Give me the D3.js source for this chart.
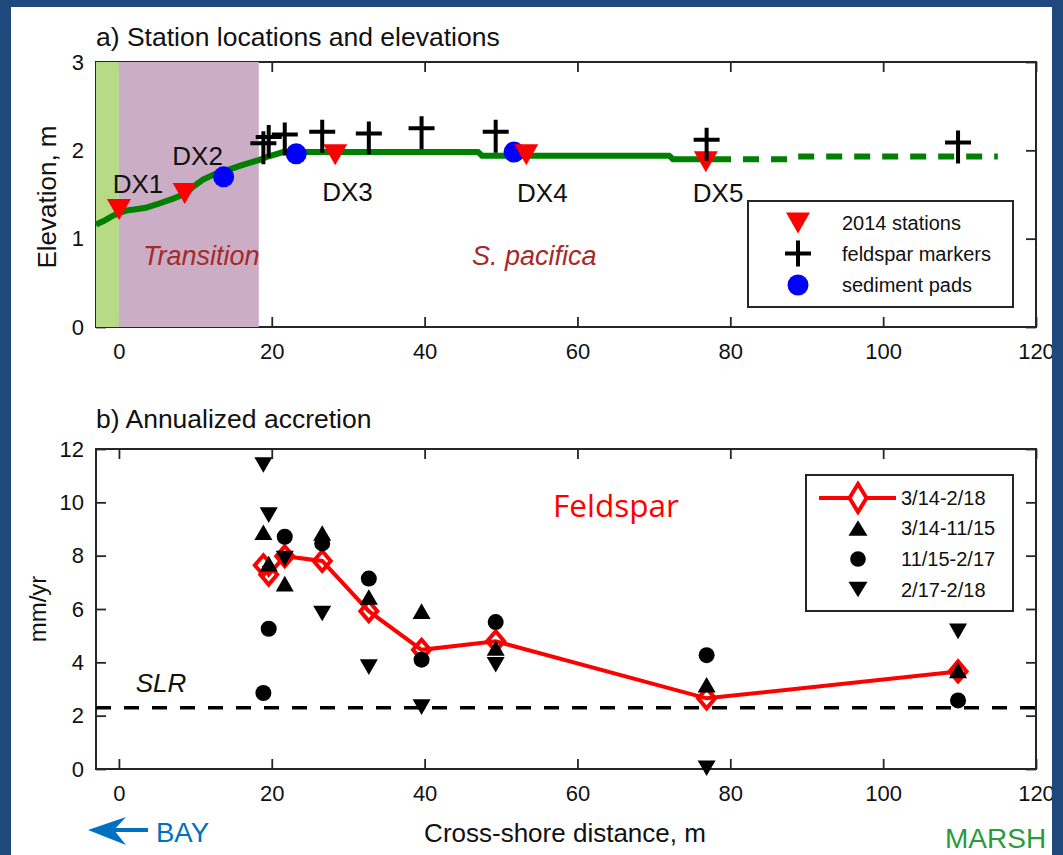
<!DOCTYPE html>
<html>
<head>
<meta charset="utf-8">
<script src="https://cdn.jsdelivr.net/npm/d3@7"></script>
<style>
  body { margin: 0; background: #1f497d; }
  svg text { font-family: "Liberation Sans", Arial, sans-serif; fill: #111; }
</style>
</head>
<body>
<svg id="chart" width="1063" height="855"></svg>
<script>
// ---- panel a: stations and elevations ----
const stationNames = ['DX1', 'DX2', 'DX3', 'DX4', 'DX5'];
const stationX = [0, 8.6, 28.3, 53.3, 76.8];
const stationElev = [1.33, 1.51, 1.95, 1.95, 1.87];
const stationLabelX = [2.5, 10.3, 29.9, 55.4, 78.4];
const stationLabelElev = [1.52, 1.83, 1.43, 1.41, 1.41];

const padX = [13.7, 23.2, 51.7];
const padElev = [1.7, 1.96, 1.98];

const feldsparX = [18.9, 19.6, 21.7, 26.6, 32.7, 39.6, 49.3, 76.9, 109.8];
const feldsparElev = [2.08, 2.15, 2.18, 2.21, 2.19, 2.25, 2.21, 2.12, 2.09];

const profileX = [-3, -2, -1, 0, 1, 2, 3.5, 5, 7, 8.7, 9.6, 11, 12.5, 14, 16, 18.3, 19.5, 21.5, 47, 47.5, 72, 72.5, 78];
const profileElev = [1.16, 1.2, 1.25, 1.29, 1.32, 1.33, 1.35, 1.39, 1.45, 1.51, 1.58, 1.67, 1.73, 1.77, 1.83, 1.89, 1.93, 1.98, 1.98, 1.94, 1.94, 1.90, 1.90];
const profileExtX = [78, 88, 88.5, 115];
const profileExtElev = [1.90, 1.90, 1.93, 1.93];

const zoneStart = [-3, 0];
const zoneEnd = [0, 18.3];
const zoneColors = ['#b6da86', '#cbadc6'];

// ---- panel b: annualized accretion (mm/yr) ----
const periods = ['3/14-2/18', '3/14-11/15', '11/15-2/17', '2/17-2/18'];
const rateTotal = [7.64, 7.29, 7.98, 7.8, 5.92, 4.47, 4.79, 2.65, 3.66];
const rateP1 = [8.88, 7.7, 6.95, 8.85, 6.45, 5.92, 4.54, 3.16, 3.7];
const rateP2 = [2.85, 5.26, 8.71, 8.46, 7.14, 4.1, 5.51, 4.27, 2.57];
const rateP3 = [11.4, 9.52, 7.89, 5.83, 3.82, 2.32, 3.91, 0.03, 5.16];
const slrRate = 2.3;

const xTicks = [0, 20, 40, 60, 80, 100, 120];
const elevTicks = [0, 1, 2, 3];
const rateTicks = [0, 2, 4, 6, 8, 10, 12];

// ---- setup ----
const svg = d3.select('#chart');
svg.append('rect').attr('x', 11).attr('y', 7).attr('width', 1041).attr('height', 860).attr('fill', '#fff');

const x = d3.scaleLinear().domain([-3, 120]).range([96, 1036]);
const yA = d3.scaleLinear().domain([0, 3]).range([327, 62]);
const yB = d3.scaleLinear().domain([0, 12]).range([769, 449]);

const AX = '#262626';

// marker paths
const triDown = (w, h) => `M${-w},${-h}L${w},${-h}L0,${h}Z`;
const triUp = (w, h) => `M${-w},${h}L${w},${h}L0,${-h}Z`;
const diamond = (w, h) => `M0,${-h}L${w},0L0,${h}L${-w},0Z`;
const dagger = (a, up, down) => `M${-a},0H${a}M0,${-up}V${down}`;

function drawAxes(g, y, yTicks) {
  const [x0, x1] = x.range();
  const [yb, yt] = y.range();
  const style = sel => {
    sel.select('.domain').remove();
    sel.selectAll('line').attr('stroke', AX).attr('stroke-width', 1.8);
    sel.selectAll('text').style('font-size', '22px').attr('fill', '#111');
  };
  g.append('g').attr('transform', `translate(0,${yb})`)
    .call(d3.axisBottom(x).tickValues(xTicks).tickSize(-10).tickPadding(16).tickFormat(d3.format('d')))
    .call(style);
  g.append('g').attr('transform', `translate(0,${yt})`)
    .call(d3.axisTop(x).tickValues(xTicks).tickSize(-10).tickFormat(''))
    .call(style);
  g.append('g').attr('transform', `translate(${x0},0)`)
    .call(d3.axisLeft(y).tickValues(yTicks).tickSize(-10).tickPadding(12).tickFormat(d3.format('d')))
    .call(style);
  g.append('g').attr('transform', `translate(${x1},0)`)
    .call(d3.axisRight(y).tickValues(yTicks).tickSize(-10).tickFormat(''))
    .call(style);
  g.append('rect').attr('x', x0).attr('y', yt).attr('width', x1 - x0).attr('height', yb - yt)
    .attr('fill', 'none').attr('stroke', AX).attr('stroke-width', 2);
}

// ================= panel a =================
const ga = svg.append('g');
drawAxes(ga, yA, elevTicks);

ga.selectAll('rect.zone').data(zoneStart).join('rect').attr('class', 'zone')
  .attr('x', d => x(d)).attr('width', (d, i) => x(zoneEnd[i]) - x(d))
  .attr('y', yA(3)).attr('height', yA(0) - yA(3))
  .attr('fill', (d, i) => zoneColors[i]);

const lineA = d3.line().x(d => x(d[0])).y(d => yA(d[1]));
ga.append('path').datum(d3.zip(profileX, profileElev)).attr('d', lineA)
  .attr('fill', 'none').attr('stroke', '#008000').attr('stroke-width', 6);
ga.append('path').datum(d3.zip(profileExtX, profileExtElev)).attr('d', lineA)
  .attr('fill', 'none').attr('stroke', '#008000').attr('stroke-width', 6).attr('stroke-dasharray', '16,12');

ga.selectAll('circle.pad').data(d3.zip(padX, padElev)).join('circle').attr('class', 'pad')
  .attr('cx', d => x(d[0])).attr('cy', d => yA(d[1])).attr('r', 10.5).attr('fill', '#0000ff');

ga.selectAll('path.station').data(d3.zip(stationX, stationElev)).join('path').attr('class', 'station')
  .attr('transform', d => `translate(${x(d[0])},${yA(d[1])})`)
  .attr('d', triDown(12, 10.5)).attr('fill', '#ff0000');

ga.selectAll('path.feld').data(d3.zip(feldsparX, feldsparElev)).join('path').attr('class', 'feld')
  .attr('transform', d => `translate(${x(d[0])},${yA(d[1])})`)
  .attr('d', dagger(13, 12, 21)).attr('fill', 'none').attr('stroke', '#000').attr('stroke-width', 4);

ga.selectAll('text.dx').data(stationNames).join('text').attr('class', 'dx')
  .attr('x', (d, i) => x(stationLabelX[i])).attr('y', (d, i) => yA(stationLabelElev[i]))
  .attr('text-anchor', 'middle').style('font-size', '26px').text(d => d);

ga.append('text').attr('x', x(3.15)).attr('y', yA(0.70))
  .style('font-size', '27px').style('font-style', 'italic').style('fill', '#a52a2a').text('Transition');
ga.append('text').attr('x', x(46.2)).attr('y', yA(0.70))
  .style('font-size', '27px').style('font-style', 'italic').style('fill', '#a52a2a').text('S. pacifica');

ga.append('text').attr('x', 96).attr('y', 46).style('font-size', '26.5px').text('a) Station locations and elevations');
ga.append('text').attr('transform', 'translate(56,197) rotate(-90)').attr('text-anchor', 'middle')
  .style('font-size', '26px').text('Elevation, m');

// legend a
const legA = ga.append('g');
legA.append('rect').attr('x', 748).attr('y', 201).attr('width', 265).attr('height', 106)
  .attr('fill', '#fff').attr('stroke', AX).attr('stroke-width', 2);
const legARows = [223, 253.5, 285];
const legALabels = ['2014 stations', 'feldspar markers', 'sediment pads'];
legA.append('path').attr('transform', `translate(798,${legARows[0]})`).attr('d', triDown(12, 10.5)).attr('fill', '#ff0000');
legA.append('path').attr('transform', `translate(798,${legARows[1]})`).attr('d', dagger(13, 13, 13))
  .attr('stroke', '#000').attr('stroke-width', 4);
legA.append('circle').attr('cx', 798).attr('cy', legARows[2]).attr('r', 10.5).attr('fill', '#0000ff');
legA.selectAll('text').data(legALabels).join('text')
  .attr('x', 842).attr('y', (d, i) => legARows[i]).attr('dy', '0.35em')
  .style('font-size', '20px').text(d => d);

// ================= panel b =================
const gb = svg.append('g');
drawAxes(gb, yB, rateTicks);

gb.append('line').attr('x1', x(-3)).attr('x2', x(120)).attr('y1', yB(slrRate)).attr('y2', yB(slrRate))
  .attr('stroke', '#000').attr('stroke-width', 3.5).attr('stroke-dasharray', '15,13');

const lineB = d3.line().x(d => x(d[0])).y(d => yB(d[1]));
gb.append('path').datum(d3.zip(feldsparX, rateTotal)).attr('d', lineB)
  .attr('fill', 'none').attr('stroke', '#ff0000').attr('stroke-width', 4);
gb.selectAll('path.tot').data(d3.zip(feldsparX, rateTotal)).join('path').attr('class', 'tot')
  .attr('transform', d => `translate(${x(d[0])},${yB(d[1])})`)
  .attr('d', diamond(8.5, 10)).attr('fill', 'none').attr('stroke', '#ff0000').attr('stroke-width', 4);

gb.selectAll('path.p1').data(d3.zip(feldsparX, rateP1)).join('path').attr('class', 'p1')
  .attr('transform', d => `translate(${x(d[0])},${yB(d[1])})`).attr('d', triUp(9, 7.8)).attr('fill', '#000');
gb.selectAll('circle.p2').data(d3.zip(feldsparX, rateP2)).join('circle').attr('class', 'p2')
  .attr('cx', d => x(d[0])).attr('cy', d => yB(d[1])).attr('r', 8).attr('fill', '#000');
gb.selectAll('path.p3').data(d3.zip(feldsparX, rateP3)).join('path').attr('class', 'p3')
  .attr('transform', d => `translate(${x(d[0])},${yB(d[1])})`).attr('d', triDown(9, 7.8)).attr('fill', '#000');

gb.append('text').attr('x', x(2.2)).attr('y', yB(2.9)).style('font-size', '26px').style('font-style', 'italic').text('SLR');
gb.append('text').attr('x', x(56.8)).attr('y', yB(9.44))
  .style('font-family', '"Open Sans", sans-serif').style('font-size', '31.5px').style('fill', '#ff0000').text('Feldspar');

gb.append('text').attr('x', 96).attr('y', 428).style('font-size', '26.5px').text('b) Annualized accretion');
gb.append('text').attr('transform', 'translate(46,609) rotate(-90)').attr('text-anchor', 'middle')
  .style('font-size', '24px').text('mm/yr');
gb.append('text').attr('x', 565).attr('y', 842).attr('text-anchor', 'middle')
  .style('font-size', '26px').text('Cross-shore distance, m');

// legend b
const legB = gb.append('g');
legB.append('rect').attr('x', 806).attr('y', 475).attr('width', 207).attr('height', 136)
  .attr('fill', '#fff').attr('stroke', AX).attr('stroke-width', 2);
const legBRows = [498, 528, 559, 589.5];
legB.append('line').attr('x1', 819).attr('x2', 896).attr('y1', legBRows[0]).attr('y2', legBRows[0])
  .attr('stroke', '#ff0000').attr('stroke-width', 4);
legB.append('path').attr('transform', `translate(858,${legBRows[0]})`).attr('d', diamond(8.5, 14))
  .attr('fill', '#fff').attr('stroke', '#ff0000').attr('stroke-width', 4);
legB.append('path').attr('transform', `translate(858,${legBRows[1]})`).attr('d', triUp(9.5, 7.8)).attr('fill', '#000');
legB.append('circle').attr('cx', 858).attr('cy', legBRows[2]).attr('r', 7.8).attr('fill', '#000');
legB.append('path').attr('transform', `translate(858,${legBRows[3]})`).attr('d', triDown(9.5, 7.8)).attr('fill', '#000');
legB.selectAll('text').data(periods).join('text')
  .attr('x', 901).attr('y', (d, i) => legBRows[i]).attr('dy', '0.35em')
  .style('font-size', '20px').text(d => d);

// BAY / MARSH direction labels
const bay = svg.append('g');
bay.append('line').attr('x1', 108).attr('x2', 148).attr('y1', 830).attr('y2', 830)
  .attr('stroke', '#0070c0').attr('stroke-width', 4);
bay.append('path').attr('d', 'M88,830L126,817L114,830L126,845Z').attr('fill', '#0070c0');
bay.append('text').attr('x', 156).attr('y', 842).style('font-size', '27.5px').style('fill', '#0070c0').text('BAY');
svg.append('text').attr('x', 945).attr('y', 848).style('font-size', '28px').style('fill', '#2a9a3a').text('MARSH');

// slide frame on top
svg.append('rect').attr('x', 1052).attr('y', 0).attr('width', 11).attr('height', 855).attr('fill', '#1f497d');
svg.append('rect').attr('x', 0).attr('y', 0).attr('width', 11).attr('height', 855).attr('fill', '#1f497d');
svg.append('rect').attr('x', 0).attr('y', 0).attr('width', 1063).attr('height', 7).attr('fill', '#1f497d');
</script>
</body>
</html>
